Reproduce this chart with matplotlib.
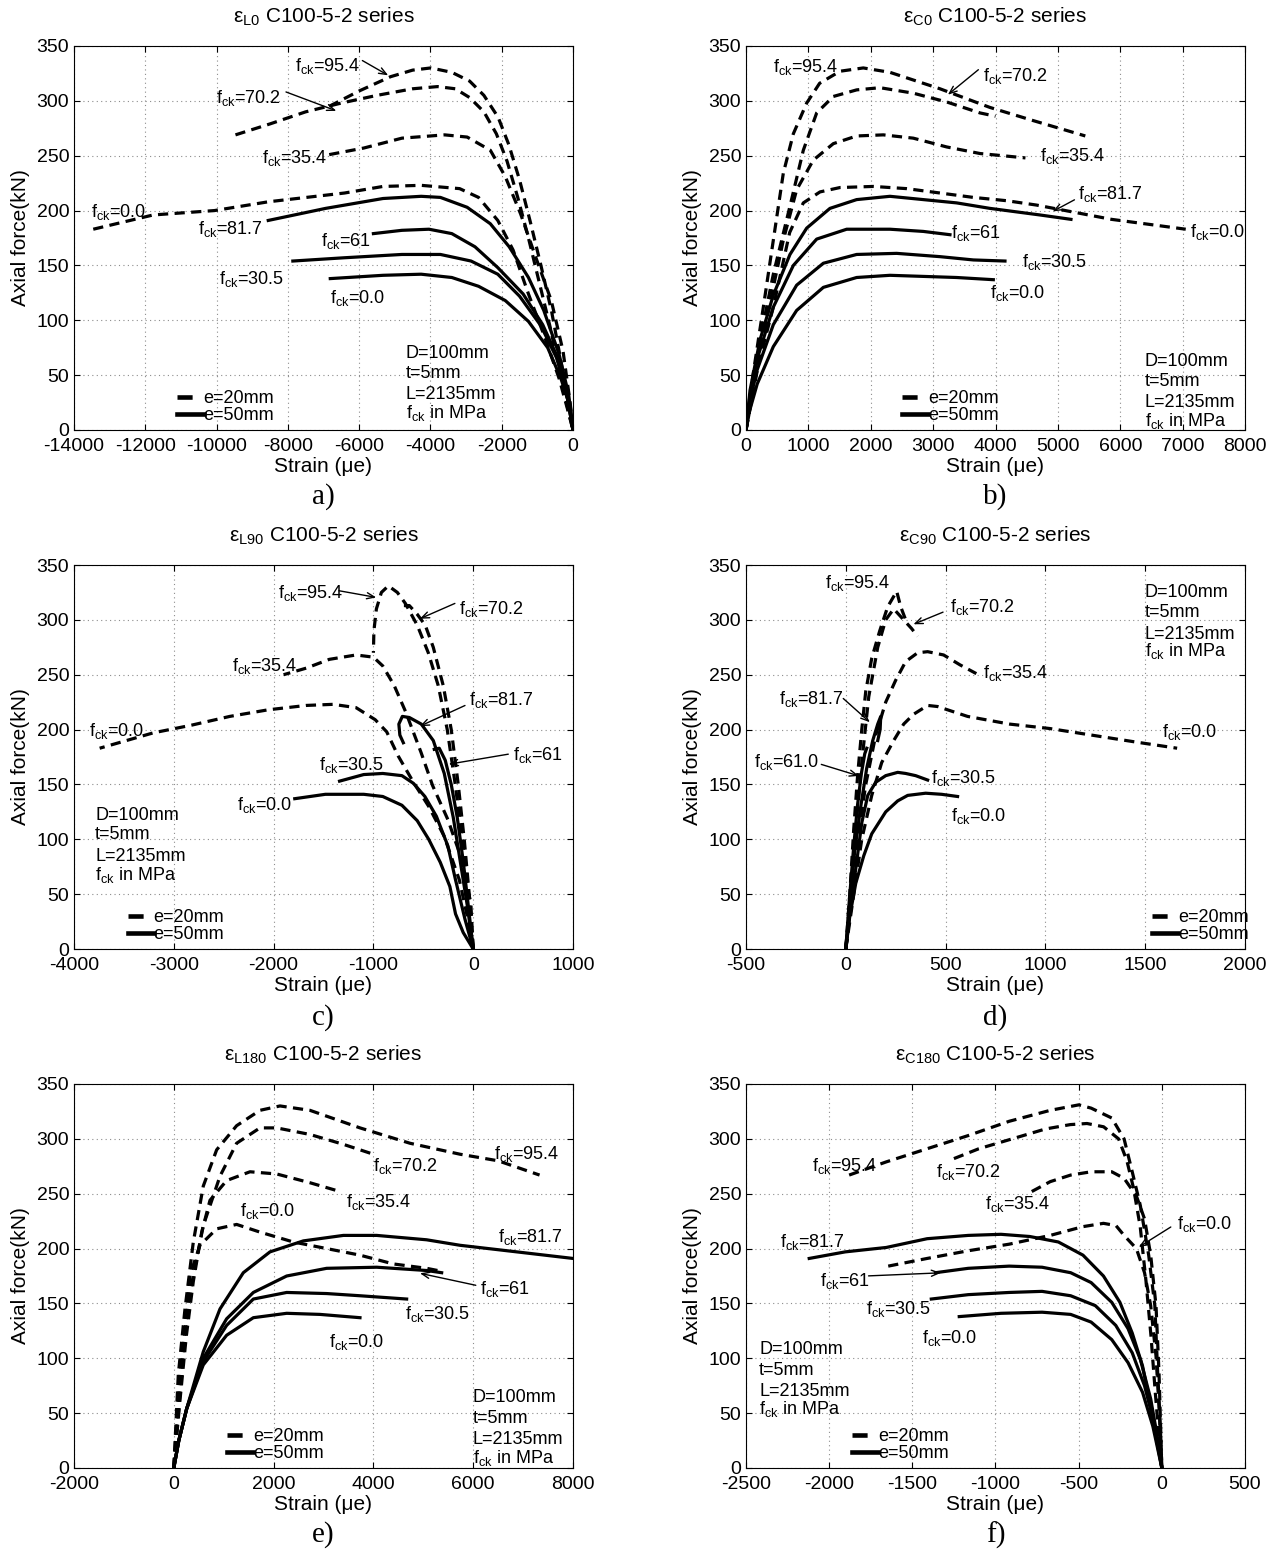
import numpy as np
import matplotlib
matplotlib.use('Agg')
import matplotlib.pyplot as plt
from matplotlib.lines import Line2D

plt.rcParams['font.family'] = ['Liberation Sans', 'DejaVu Sans']
plt.rcParams['mathtext.fontset'] = 'custom'
plt.rcParams['mathtext.rm'] = 'Liberation Sans'
plt.rcParams['mathtext.it'] = 'Liberation Sans:italic'
plt.rcParams['mathtext.default'] = 'rm'
plt.rcParams['axes.unicode_minus'] = False

# ---- data: (strain in micro-strain, axial force in kN) ----
# a) eps_L0
a_e20_954 = [(-6840,295),(-6000,309),(-5120,322),(-4500,328),(-3990,330),(-3400,326),(-2900,318),(-2500,305),(-2100,285),(-1800,260),(-1500,228),(-1200,190),(-900,150),(-600,108),(-350,65),(-150,28),(0,0)]
a_e20_702 = [(-9470,269),(-8500,279),(-7500,290),(-6500,298),(-5500,305),(-4500,311),(-3800,313),(-3300,311),(-2900,303),(-2500,290),(-2150,270),(-1850,245),(-1550,212),(-1250,175),(-950,135),(-650,95),(-380,55),(-150,20),(0,0)]
a_e20_354 = [(-6840,251),(-5870,257),(-4800,266),(-3600,269),(-2970,267),(-2320,255),(-1900,231),(-1470,197),(-1040,157),(-610,118),(-280,72),(-80,25),(0,0)]
a_e20_0 = [(-13460,183),(-11780,196),(-10060,200),(-8550,208),(-6410,216),(-5330,222),(-4260,223),(-3180,220),(-2650,212),(-2110,191),(-1680,164),(-1250,124),(-820,87),(-390,47),(-120,15),(0,0)]
a_e50_817 = [(-8550,191),(-6940,202),(-5330,211),(-4260,213),(-3720,212),(-2970,203),(-2320,188),(-1790,167),(-1250,139),(-820,109),(-390,69),(-120,32),(0,0)]
a_e50_61 = [(-5600,179),(-4800,182),(-4040,183),(-3400,179),(-2750,167),(-2110,148),(-1400,124),(-850,96),(-430,66),(-150,30),(0,0)]
a_e50_305 = [(-7860,154),(-6410,157),(-4800,160),(-3720,160),(-2860,154),(-2110,142),(-1500,122),(-900,95),(-450,65),(-150,28),(0,0)]
a_e50_0 = [(-6810,138),(-5330,141),(-4260,142),(-3400,139),(-2650,131),(-1900,118),(-1250,99),(-710,75),(-340,47),(-70,20),(0,0)]

# b) eps_C0
b_e20_954 = [(0,0),(117,52),(278,112),(438,173),(598,234),(759,270),(973,298),(1180,316),(1507,327),(1880,330),(2308,326),(3110,311),(3911,294),(4605,282),(5440,268)]
b_e20_702 = [(0,0),(224,82),(438,142),(705,204),(919,255),(1133,289),(1400,304),(1774,310),(2148,312),(2682,307),(3217,299),(3751,289),(4000,286)]
b_e20_354 = [(0,0),(250,80),(598,173),(812,219),(1079,246),(1400,261),(1774,268),(2201,269),(2682,266),(3217,258),(3751,252),(4480,248)]
b_e20_0 = [(0,0),(200,60),(438,112),(700,180),(919,207),(1186,217),(1507,221),(2041,222),(2575,220),(3110,216),(3644,212),(4178,209),(4659,205),(5860,192),(7050,183)]
b_e50_817 = [(0,0),(64,36),(224,82),(438,123),(705,160),(973,184),(1346,202),(1774,210),(2308,213),(2842,210),(3377,207),(3911,202),(4712,196),(5210,192)]
b_e50_61 = [(0,0),(60,30),(180,65),(438,112),(759,150),(1133,174),(1614,183),(2308,183),(2842,181),(3270,178)]
b_e50_305 = [(0,0),(60,26),(180,55),(438,96),(812,132),(1240,152),(1774,160),(2415,161),(3110,158),(3644,155),(4152,154)]
b_e50_0 = [(0,0),(60,18),(180,42),(438,76),(812,109),(1240,130),(1774,139),(2308,141),(2842,140),(3377,139),(3965,137)]

# c) eps_L90
c_e20_954 = [(0,0),(-50,50),(-110,100),(-180,150),(-260,200),(-350,240),(-450,270),(-560,295),(-680,315),(-760,325),(-850,331),(-920,325),(-970,310),(-995,290),(-1000,270)]
c_e20_702 = [(0,0),(-40,50),(-90,100),(-150,150),(-220,200),(-300,240),(-400,275),(-480,295),(-560,305),(-640,313),(-700,313),(-720,308)]
c_e20_354 = [(0,0),(-24,42),(-139,88),(-254,118),(-407,149),(-522,179),(-676,216),(-791,240),(-906,258),(-1000,266),(-1174,268),(-1442,264),(-1673,256),(-1900,250)]
c_e20_0 = [(0,0),(-60,30),(-139,63),(-292,103),(-446,130),(-599,152),(-752,176),(-867,198),(-982,209),(-1174,220),(-1404,223),(-1673,222),(-2056,218),(-2439,212),(-2823,204),(-3206,197),(-3743,183)]
c_e50_817 = [(0,0),(-60,40),(-130,80),(-200,120),(-290,160),(-400,190),(-520,205),(-640,211),(-710,212),(-745,205),(-735,195),(-700,188)]
c_e50_61 = [(0,0),(-50,40),(-100,80),(-160,120),(-220,150),(-280,172),(-340,183),(-390,182)]
c_e50_305 = [(0,0),(-82,27),(-177,63),(-254,94),(-369,121),(-484,139),(-599,151),(-714,158),(-906,160),(-1097,159),(-1339,153)]
c_e50_0 = [(0,0),(-100,15),(-177,32),(-234,57),(-330,79),(-446,100),(-561,117),(-714,131),(-906,139),(-1097,141),(-1481,141),(-1788,137)]

# d) eps_C90
d_e20_954 = [(0,0),(20,50),(40,110),(60,160),(80,200),(100,235),(130,265),(170,290),(210,312),(255,326),(275,312),(300,300)]
d_e20_702 = [(0,0),(25,50),(50,110),(80,170),(115,230),(160,275),(200,300),(240,310),(290,300),(330,292),(360,285)]
d_e20_354 = [(0,0),(30,50),(60,100),(100,150),(150,195),(200,225),(250,245),(300,262),(360,270),(410,271),(490,268),(572,259),(654,251)]
d_e20_0 = [(0,0),(40,50),(80,100),(130,140),(180,170),(240,190),(290,205),(340,214),(410,222),(460,221),(610,212),(820,205),(1020,201),(1230,195),(1440,189),(1660,183)]
d_e50_817 = [(0,0),(20,40),(45,90),(75,130),(105,165),(135,190),(160,205),(175,212),(172,200),(160,190)]
d_e50_61 = [(0,0),(18,45),(38,90),(58,130),(78,160),(95,178),(105,183)]
d_e50_305 = [(0,0),(25,40),(55,80),(80,115),(110,140),(150,152),(200,158),(260,161),(300,160),(350,158),(410,154)]
d_e50_0 = [(0,0),(20,30),(50,60),(90,85),(130,105),(200,125),(260,135),(310,140),(400,142),(480,141),(560,139)]

# e) eps_L180
e_e20_954 = [(0,0),(90,85),(224,145),(391,206),(591,257),(859,290),(1259,312),(1727,326),(2128,330),(2729,326),(3731,310),(4733,296),(5735,286),(6500,280),(7330,267)]
e_e20_702 = [(0,0),(123,85),(324,160),(591,221),(926,266),(1259,296),(1727,310),(2061,310),(2729,304),(3398,295),(3999,286)]
e_e20_354 = [(0,0),(120,60),(250,120),(391,170),(560,215),(725,244),(1059,262),(1527,270),(2061,268),(2729,260),(3331,252)]
e_e20_0 = [(0,0),(110,60),(220,120),(324,176),(524,203),(859,218),(1259,222),(1727,215),(2395,206),(3063,200),(3731,194),(4399,186),(5067,182),(5400,179)]
e_e50_817 = [(0,0),(100,25),(258,54),(591,106),(926,145),(1393,178),(1928,197),(2596,207),(3398,212),(4066,212),(5067,208),(5735,203),(6871,197),(8000,191)]
e_e50_61 = [(0,0),(100,25),(258,54),(591,100),(1059,136),(1594,160),(2262,175),(3063,182),(4066,183),(5067,180),(5368,178)]
e_e50_305 = [(0,0),(100,25),(258,54),(591,97),(1059,130),(1594,154),(2262,160),(3063,159),(3731,157),(4666,154)]
e_e50_0 = [(0,0),(100,25),(258,54),(591,94),(1059,121),(1594,137),(2262,141),(2930,140),(3731,137)]

# f) eps_C180
f_e20_954 = [(-1880,267),(-1657,279),(-1411,291),(-1164,303),(-918,316),(-671,326),(-499,331),(-425,328),(-301,319),(-227,300),(-178,270),(-129,239),(-79,194),(-42,148),(-25,87),(-10,41),(0,0)]
f_e20_702 = [(-1250,282),(-1100,291),(-900,300),(-700,309),(-550,313),(-450,314),(-350,311),(-260,300),(-210,280),(-170,255),(-130,220),(-95,170),(-65,120),(-40,70),(-18,30),(0,0)]
f_e20_354 = [(-782,252),(-671,261),(-548,267),(-425,270),(-301,270),(-227,264),(-153,248),(-104,227),(-67,194),(-35,148),(-17,87),(0,0)]
f_e20_0 = [(-1645,184),(-1411,191),(-1164,198),(-918,204),(-671,212),(-474,220),(-351,223),(-276,221),(-227,212),(-153,200),(-104,178),(-67,148),(-35,102),(-17,56),(0,0)]
f_e50_817 = [(-2120,191),(-1903,197),(-1657,201),(-1411,209),(-1164,212),(-967,213),(-794,211),(-622,206),(-474,194),(-351,175),(-252,151),(-178,123),(-116,93),(-67,56),(-25,20),(0,0)]
f_e50_61 = [(-1361,178),(-1164,182),(-918,184),(-720,183),(-548,178),(-425,169),(-301,151),(-203,127),(-129,99),(-67,63),(-17,20),(0,0)]
f_e50_305 = [(-1386,154),(-1164,158),(-918,160),(-720,161),(-548,157),(-400,148),(-277,130),(-178,105),(-104,75),(-42,38),(0,0)]
f_e50_0 = [(-1218,138),(-967,141),(-720,142),(-548,140),(-425,133),(-301,117),(-203,96),(-116,69),(-54,38),(0,0)]

titles = ['L0', 'C0', 'L90', 'C90', 'L180', 'C180']
letters = ['a)', 'b)', 'c)', 'd)', 'e)', 'f)']
xlims = [(-14000, 0), (0, 8000), (-4000, 1000), (-500, 2000), (-2000, 8000), (-2500, 500)]
xsteps = [2000, 1000, 1000, 500, 2000, 500]

dashed = [
    [a_e20_954, a_e20_702, a_e20_354, a_e20_0],
    [b_e20_954, b_e20_702, b_e20_354, b_e20_0],
    [c_e20_954, c_e20_702, c_e20_354, c_e20_0],
    [d_e20_954, d_e20_702, d_e20_354, d_e20_0],
    [e_e20_954, e_e20_702, e_e20_354, e_e20_0],
    [f_e20_954, f_e20_702, f_e20_354, f_e20_0],
]
solid = [
    [a_e50_817, a_e50_61, a_e50_305, a_e50_0],
    [b_e50_817, b_e50_61, b_e50_305, b_e50_0],
    [c_e50_817, c_e50_61, c_e50_305, c_e50_0],
    [d_e50_817, d_e50_61, d_e50_305, d_e50_0],
    [e_e50_817, e_e50_61, e_e50_305, e_e50_0],
    [f_e50_817, f_e50_61, f_e50_305, f_e50_0],
]

# curve labels (value, x, y) and arrows (x0, y0, x1, y1)
labels = [
    [('95.4',-7802,333),('70.2',-10026,304),('35.4',-8737,249),('0.0',-13527,200),('81.7',-10509,185),('61',-7072,174),('30.5',-9929,139),('0.0',-6814,122)],
    [('95.4',440,332),('70.2',3793,324),('35.4',4714,251),('81.7',5325,217),('0.0',7114,182),('61',3280,181),('30.5',4418,155),('0.0',3905,126)],
    [('95.4',-1960,326),('70.2',-139,311),('35.4',-2420,259),('81.7',-45,228),('0.0',-3847,200),('61',398,178),('30.5',-1546,169),('0.0',-2363,133)],
    [('95.4',-106,335),('70.2',521,313),('35.4',685,253),('81.7',-336,229),('61.0',-459,172),('30.5',428,157),('0.0',525,123),('0.0',1583,199)],
    [('95.4',6413,288),('70.2',3997,277),('35.4',3460,244),('0.0',1328,236),('81.7',6489,212),('61',6144,165),('30.5',4633,142),('0.0',3115,116)],
    [('95.4',-2101,277),('70.2',-1356,271),('35.4',-1065,242),('0.0',93,224),('81.7',-2298,207),('61',-2056,172),('30.5',-1780,146),('0.0',-1440,120)],
]
arrows = [
    [(-5977,338,-5117,322),(-8125,309,-6567,290)],
    [(3760,330,3202,304),(5305,211,4878,198)],
    [(-1373,327,-944,320),(-158,316,-560,300),(-57,223,-560,202),(379,178,-273,168)],
    [(500,308,326,295),(-23,230,131,205),(-136,169,79,157)],
    [(6106,166,4879,178)],
    [(68,221,-153,200),(-1780,175,-1312,178)],
]
info_lines = ['D=100mm', 't=5mm', 'L=2135mm', 'f$_{ck}$ in MPa']
info_pos = [(-4690, [72,53,34,17]), (6390, [64,46,27,10]), (-3789, [124,106,86,69]),
            (1497, [327,309,289,273]), (5991, [66,47,28,11]), (-2421, [110,91,72,55])]
leg_x = [0.20, 0.305, 0.10, 0.807, 0.30, 0.205]

fig = plt.figure(figsize=(12.83, 15.55), dpi=100)
lefts = [74/1283, 746/1283]
bottoms = [1 - 430/1555, 1 - 949/1555, 1 - 1468/1555]
w = 499/1283
h = 384/1555
letter_y = [1 - 497/1555, 1 - 1018/1555, 1 - 1535/1555]

DASH = (3.2, 2.0)
LW = 2.3

for i in range(6):
    r, c = divmod(i, 2)
    ax = fig.add_axes([lefts[c], bottoms[r], w, h])
    for cur in dashed[i]:
        p = np.array(cur)
        ax.plot(p[:, 0], p[:, 1], color='k', lw=LW, dashes=DASH)
    for cur in solid[i]:
        p = np.array(cur)
        ax.plot(p[:, 0], p[:, 1], color='k', lw=LW)
    for txt, x, y in labels[i]:
        ax.text(x, y - 6, 'f$_{ck}$=' + txt, fontsize=13, va='baseline', ha='left')
    for x0, y0, x1, y1 in arrows[i]:
        ax.annotate('', xy=(x1, y1), xytext=(x0, y0),
                    arrowprops=dict(arrowstyle='->,head_length=0.55,head_width=0.22', lw=1.0, color='k'))
    ix, iys = info_pos[i]
    for s, yy in zip(info_lines, iys):
        ax.text(ix, yy - 6, s, fontsize=13, va='baseline', ha='left')

    handles = [Line2D([], [], color='k', lw=3.3, dashes=(3.3, 20)),
               Line2D([], [], color='k', lw=3.3)]
    ax.legend(handles, ['e=20mm', 'e=50mm'], loc='lower left', bbox_to_anchor=(leg_x[i], 0.005),
              frameon=False, fontsize=13, handlelength=1.45, handletextpad=0.0,
              labelspacing=0.0, borderpad=0.2, borderaxespad=0)

    x0, x1 = xlims[i]
    ax.set_xlim(x0, x1)
    ax.set_ylim(0, 350)
    ax.set_xticks(np.arange(x0, x1 + 1, xsteps[i]))
    ax.set_yticks(np.arange(0, 351, 50))
    ax.grid(True, color='0.55', linestyle=(0, (1, 3)), lw=0.8)
    ax.tick_params(direction='in', length=4, top=True, right=True, labelsize=14)
    ax.tick_params(axis='x', pad=6)
    for sp in ax.spines.values():
        sp.set_linewidth(0.8)
    ax.set_xlabel('Strain (\u03bce)', fontsize=15, labelpad=1)
    ax.set_ylabel('Axial force(kN)', fontsize=15, labelpad=5)
    ax.set_title('\u03b5$_{' + titles[i] + '}$ C100-5-2 series', fontsize=15, pad=17)
    fig.text(lefts[c] + w / 2, letter_y[r], letters[i], fontsize=21,
             family=['Liberation Serif', 'DejaVu Serif'], ha='center', va='center')

fig.savefig('out.png', dpi=100)
